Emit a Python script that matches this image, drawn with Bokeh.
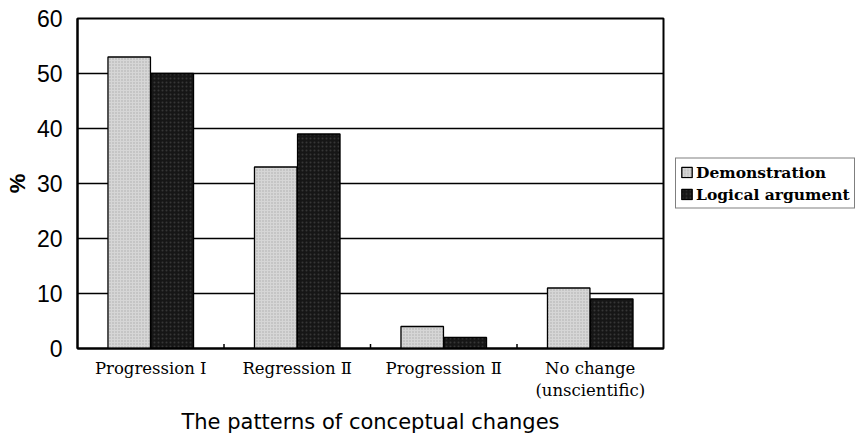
from bokeh.plotting import figure
from bokeh.models import ColumnDataSource, Legend, LegendItem, FixedTicker
from bokeh.transform import dodge
from bokeh.embed import file_html
from bokeh.resources import INLINE

categories = ["Progression I", "Regression Ⅱ", "Progression Ⅱ", "No change\n(unscientific)"]
demonstration = [53, 33, 4, 11]
logical_argument = [50, 39, 2, 9]
y_ticks = [0, 10, 20, 30, 40, 50, 60]
series_names = ["Demonstration", "Logical argument"]

src = ColumnDataSource(dict(cat=categories, demo=demonstration, logic=logical_argument))

p = figure(x_range=categories, y_range=(0, 60), frame_width=586, frame_height=330,
           output_backend="svg", toolbar_location=None,
           min_border_left=77, min_border_right=0, min_border_top=18, min_border_bottom=82)

r1 = p.vbar(x=dodge("cat", -0.147, range=p.x_range), top="demo", width=0.29, source=src,
            fill_color="#d6d6d6", line_color="black", line_width=1.3,
            hatch_pattern="dot", hatch_color="#8a8a8a", hatch_scale=3, hatch_alpha=0.6)
r2 = p.vbar(x=dodge("cat", 0.147, range=p.x_range), top="logic", width=0.29, source=src,
            fill_color="#161616", line_color="black", line_width=1.3,
            hatch_pattern="dot", hatch_color="#555555", hatch_scale=4, hatch_alpha=0.5)

# small boundary ticks between categories
bx = [(c, -0.5) for c in categories[1:]]
p.segment(x0=bx, x1=bx, y0=[0] * 3, y1=[0.8] * 3, line_color="black", line_width=1.5)

p.outline_line_color = "black"
p.outline_line_width = 2
p.xgrid.grid_line_color = None
p.ygrid.grid_line_color = "black"
p.ygrid.grid_line_width = 1.5

p.yaxis.ticker = FixedTicker(ticks=y_ticks)
p.yaxis.axis_line_color = "black"
p.yaxis.axis_line_width = 2
p.yaxis.major_tick_out = 0
p.yaxis.major_tick_in = 0
p.yaxis.minor_tick_out = 0
p.yaxis.minor_tick_in = 0
p.yaxis.major_label_text_font = "Liberation Sans"
p.yaxis.major_label_text_font_size = "23px"
p.yaxis.major_label_text_color = "black"
p.yaxis.major_label_standoff = 15
p.yaxis.axis_label = "%"
p.yaxis.axis_label_text_font = "Liberation Sans"
p.yaxis.axis_label_text_font_style = "bold"
p.yaxis.axis_label_text_font_size = "22px"
p.yaxis.axis_label_text_color = "black"
p.yaxis.axis_label_standoff = 4

p.xaxis.axis_line_color = "black"
p.xaxis.axis_line_width = 2
p.xaxis.major_tick_out = 0
p.xaxis.major_tick_in = 0
p.xaxis.major_label_text_font = "DejaVu Serif"
p.xaxis.major_label_text_font_size = "16.5px"
p.xaxis.major_label_text_color = "black"
p.xaxis.major_label_standoff = 10
p.xaxis.axis_label = "The patterns of conceptual changes"
p.xaxis.axis_label_text_font = "DejaVu Sans"
p.xaxis.axis_label_text_font_style = "normal"
p.xaxis.axis_label_text_font_size = "21px"
p.xaxis.axis_label_text_color = "black"
p.xaxis.axis_label_standoff = 7

legend = Legend(items=[LegendItem(label=series_names[0], renderers=[r1]),
                       LegendItem(label=series_names[1], renderers=[r2])],
                location="center_left")
legend.label_text_font = "DejaVu Serif"
legend.label_text_font_size = "15.5px"
legend.label_text_font_style = "bold"
legend.label_text_color = "black"
legend.glyph_width = 13
legend.glyph_height = 13
legend.label_standoff = 3
legend.spacing = 3
legend.padding = 4
legend.margin = 12
legend.border_line_color = "black"
legend.border_line_width = 1.5
legend.background_fill_alpha = 1
legend.label_height = 18
p.add_layout(legend, "right")

open("out.html", "w").write(file_html(p, INLINE))
